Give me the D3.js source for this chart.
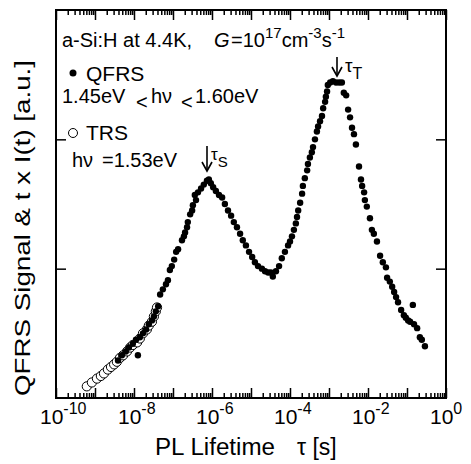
<!DOCTYPE html>
<html><head><meta charset="utf-8">
<script src="https://cdn.jsdelivr.net/npm/d3@7"></script>
<style>
html,body{margin:0;padding:0;background:#fff;}
text{font-family:"Liberation Sans",Arial,Helvetica,sans-serif;fill:#000;}
</style></head>
<body><svg id="c" width="471" height="464"></svg>
<script>
// ---- data ----
// QFRS (filled dots): log10 of lifetime tau [s] and signal (a.u., axis 0..3)
const qfrsLogTau = [-8.41,-8.31,-8.21,-8.13,-8.03,-7.95,-7.90,-7.85,-7.77,-7.69,-7.62,-7.54,-7.49,-7.44,-7.38,-7.33,-7.26,-7.18,-7.13,-7.08,-7.03,-6.97,-6.92,-6.87,-6.77,-6.72,-6.69,-6.64,-6.62,-6.56,-6.51,-6.49,-6.41,-6.44,-6.36,-6.28,-6.21,-6.13,-6.08,-6.03,-5.97,-5.90,-5.82,-5.74,-5.67,-5.59,-5.51,-5.44,-5.36,-5.28,-5.21,-5.13,-5.05,-4.97,-4.90,-4.82,-4.72,-4.64,-4.56,-4.49,-4.44,-4.36,-4.28,-4.21,-4.13,-4.05,-4.00,-3.95,-3.90,-3.85,-3.82,-3.79,-3.74,-3.69,-3.67,-3.62,-3.56,-3.54,-3.49,-3.44,-3.41,-3.36,-3.31,-3.28,-3.23,-3.18,-3.15,-3.10,-3.08,-3.05,-3.03,-2.97,-2.90,-2.82,-2.74,-2.67,-2.62,-2.56,-2.51,-2.46,-2.41,-2.36,-2.31,-2.23,-2.18,-2.15,-2.10,-2.08,-2.03,-1.95,-1.90,-1.85,-1.77,-1.69,-1.62,-1.54,-1.51,-1.44,-1.38,-1.33,-1.28,-1.23,-1.15,-1.08,-1.03,-0.97,-0.92,-0.85,-0.82,-0.74,-0.67,-0.62,-0.54];
const qfrsSignal = [0.29,0.33,0.36,0.39,0.42,0.45,0.33,0.47,0.50,0.53,0.57,0.60,0.63,0.67,0.71,0.80,0.84,0.88,0.91,0.99,1.02,1.07,1.13,1.15,1.22,1.25,1.28,1.32,1.36,1.42,1.45,1.49,1.53,1.57,1.59,1.62,1.65,1.68,1.69,1.66,1.63,1.60,1.57,1.55,1.50,1.45,1.41,1.36,1.32,1.27,1.22,1.18,1.13,1.09,1.05,1.02,1.00,0.98,0.97,0.97,0.94,0.98,1.02,1.08,1.13,1.18,1.21,1.25,1.30,1.35,1.40,1.45,1.51,1.58,1.64,1.70,1.76,1.81,1.86,1.90,1.94,2.00,2.06,2.10,2.14,2.18,2.24,2.29,2.33,2.37,2.42,2.44,2.45,2.44,2.44,2.44,2.36,2.34,2.23,2.17,2.09,2.04,1.96,1.79,1.69,1.64,1.59,1.53,1.48,1.39,1.30,1.27,1.21,1.10,1.05,1.01,0.93,0.90,0.86,0.82,0.78,0.74,0.68,0.64,0.62,0.60,0.59,0.72,0.57,0.54,0.47,0.45,0.40];
// TRS (open circles)
const trsLogTau = [-9.21,-9.08,-8.95,-8.85,-8.77,-8.67,-8.59,-8.51,-8.44,-8.36,-8.28,-8.18,-8.10,-8.03,-7.92,-7.85,-7.77,-7.67,-7.62,-7.54,-7.49,-7.44,-7.41];
const trsSignal = [0.09,0.12,0.15,0.17,0.19,0.22,0.24,0.26,0.28,0.31,0.33,0.36,0.39,0.41,0.43,0.46,0.50,0.53,0.56,0.59,0.63,0.67,0.70];
const xTickExponents = [-10,-8,-6,-4,-2,0];
const yTicks = [1,2];

// ---- layout ----
const svg = d3.select("#c");
const L = 56, R = 446, T = 10, B = 398;
const x = d3.scaleLog().domain([1e-10, 1]).range([L, R]);
const y = d3.scaleLinear().domain([0, 3]).range([B, T]);

const qfrs = qfrsLogTau.map((lg, i) => ({t: Math.pow(10, lg), v: qfrsSignal[i]}));
const trs = trsLogTau.map((lg, i) => ({t: Math.pow(10, lg), v: trsSignal[i]}));

// axes (ticks inward, mirrored)
const majors = d3.range(-10, 1).map(e => Math.pow(10, e));
const minors = [];
for (let e = -10; e < 0; e++) for (let k = 2; k <= 9; k++) minors.push(k * Math.pow(10, e));

svg.append("g").attr("transform", `translate(0,${B})`)
  .call(d3.axisBottom(x).tickValues(majors).tickSize(-10).tickFormat(""));
svg.append("g").attr("transform", `translate(0,${B})`)
  .call(d3.axisBottom(x).tickValues(minors).tickSize(-5).tickFormat(""));
svg.append("g").attr("transform", `translate(0,${T})`)
  .call(d3.axisTop(x).tickValues(majors).tickSize(-10).tickFormat(""));
svg.append("g").attr("transform", `translate(0,${T})`)
  .call(d3.axisTop(x).tickValues(minors).tickSize(-5).tickFormat(""));
svg.append("g").attr("transform", `translate(${L},0)`)
  .call(d3.axisLeft(y).tickValues(yTicks).tickSize(-10).tickFormat(""));
svg.append("g").attr("transform", `translate(${R},0)`)
  .call(d3.axisRight(y).tickValues(yTicks).tickSize(-10).tickFormat(""));
svg.selectAll(".domain").remove();
svg.selectAll(".tick line").attr("stroke", "#000").attr("stroke-width", 1.5);

svg.append("rect").attr("x", L).attr("y", T).attr("width", R - L).attr("height", B - T)
  .attr("fill", "none").attr("stroke", "#000").attr("stroke-width", 2);

// x tick labels
const xl = svg.append("g");
xTickExponents.forEach(e => {
  const t = xl.append("text").attr("x", x(Math.pow(10, e)) - 16).attr("y", 424).attr("font-size", 21);
  t.append("tspan").text("10");
  t.append("tspan").attr("font-size", 16).attr("dy", -10).text(String(e));
});

// axis titles
const xt = svg.append("text").attr("y", 455).attr("font-size", 23);
xt.append("tspan").attr("x", 155).attr("textLength", 120).attr("lengthAdjust", "spacingAndGlyphs").text("PL Lifetime");
xt.append("tspan").attr("x", 297).text("τ [s]");
svg.append("text").attr("transform", "translate(30,396) rotate(-90)").attr("font-size", 22)
  .attr("textLength", 336).attr("lengthAdjust", "spacingAndGlyphs")
  .text("QFRS Signal & t x I(t)  [a.u.]");

// data
const plot = svg.append("g");
plot.selectAll("circle.trs").data(trs).join("circle").attr("class", "trs")
  .attr("cx", d => x(d.t)).attr("cy", d => y(d.v)).attr("r", 4.6)
  .attr("fill", "#fff").attr("stroke", "#000").attr("stroke-width", 1);
plot.selectAll("circle.qfrs").data(qfrs).join("circle").attr("class", "qfrs")
  .attr("cx", d => x(d.t)).attr("cy", d => y(d.v)).attr("r", 3.2).attr("fill", "#000");

// annotations
const a1 = svg.append("text").attr("x", 62).attr("y", 47).attr("font-size", 20);
a1.append("tspan").text("a-Si:H at 4.4K,");
a1.append("tspan").attr("x", 214).attr("font-style", "italic").text("G");
a1.append("tspan").attr("x", 231).text("=10");
a1.append("tspan").attr("font-size", 15).attr("dy", -9).text("17");
a1.append("tspan").attr("dy", 9).text("cm");
a1.append("tspan").attr("font-size", 15).attr("dy", -9).text("-3");
a1.append("tspan").attr("dy", 9).text("s");
a1.append("tspan").attr("font-size", 15).attr("dy", -9).text("-1");

svg.append("circle").attr("cx", 73).attr("cy", 73).attr("r", 3.5).attr("fill", "#000");
svg.append("text").attr("x", 86).attr("y", 81).attr("font-size", 21).text("QFRS");

const a3 = svg.append("text").attr("y", 103).attr("font-size", 20);
a3.append("tspan").attr("x", 62).text("1.45eV");
a3.append("tspan").attr("x", 136).attr("dy", 6).text("<");
a3.append("tspan").attr("x", 151).attr("dy", -6).text("hν");
a3.append("tspan").attr("x", 181).attr("dy", 6).text("<");
a3.append("tspan").attr("x", 195).attr("dy", -6).text("1.60eV");

svg.append("circle").attr("cx", 73).attr("cy", 133).attr("r", 4.5).attr("fill", "#fff").attr("stroke", "#000");
svg.append("text").attr("x", 86).attr("y", 140).attr("font-size", 21).text("TRS");
const a5 = svg.append("text").attr("y", 167).attr("font-size", 20);
a5.append("tspan").attr("x", 72).text("hν");
a5.append("tspan").attr("x", 102).text("=1.53eV");

function arrow(cx, y0, y1) {
  svg.append("line").attr("x1", cx).attr("x2", cx).attr("y1", y0).attr("y2", y1 - 1)
    .attr("stroke", "#000").attr("stroke-width", 1.6);
  svg.append("path").attr("d", `M${cx - 5},${y1 - 9} L${cx},${y1} L${cx + 5},${y1 - 9}`)
    .attr("fill", "none").attr("stroke", "#000").attr("stroke-width", 1.6);
}
arrow(207, 146, 171);
const ts = svg.append("text").attr("x", 211).attr("y", 160).attr("font-size", 17);
ts.append("tspan").text("τ");
ts.append("tspan").attr("font-size", 15).attr("dy", 7).text("S");
arrow(337, 57, 76);
const tt = svg.append("text").attr("x", 345).attr("y", 72).attr("font-size", 19);
tt.append("tspan").text("τ");
tt.append("tspan").attr("font-size", 16).attr("dy", 7).text("T");
</script></body></html>
